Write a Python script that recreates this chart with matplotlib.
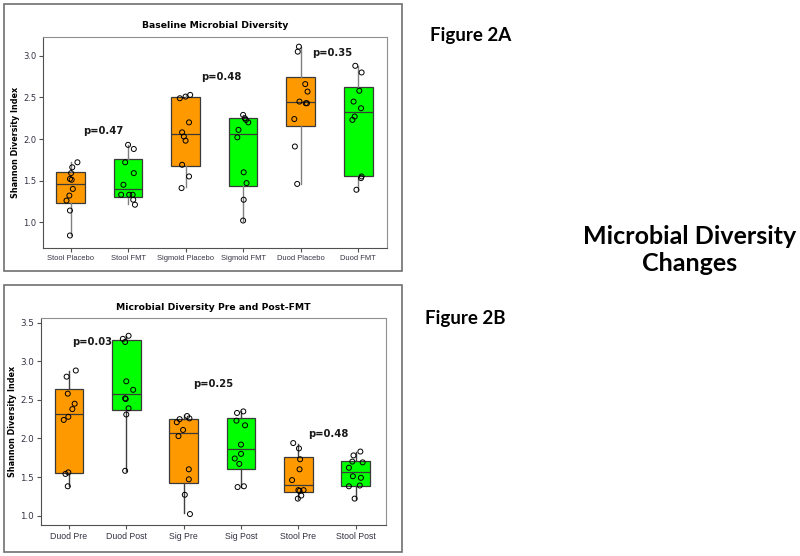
import matplotlib
matplotlib.use("Agg")
import matplotlib.pyplot as plt
import matplotlib.patches as patches
import numpy as np

# ---- Figure 2A: baseline diversity ----
groups_a = ["Stool Placebo", "Stool FMT", "Sigmoid Placebo", "Sigmoid FMT", "Duod Placebo", "Duod FMT"]
vals_a = [
    [1.72, 1.66, 1.59, 1.52, 1.51, 1.40, 1.32, 1.26, 1.14, 0.84],
    [1.93, 1.88, 1.72, 1.59, 1.45, 1.33, 1.33, 1.33, 1.27, 1.21],
    [2.53, 2.51, 2.49, 2.20, 2.08, 2.03, 1.98, 1.69, 1.55, 1.41],
    [2.29, 2.25, 2.23, 2.20, 2.11, 2.02, 1.60, 1.47, 1.27, 1.02],
    [3.11, 3.05, 2.66, 2.57, 2.45, 2.43, 2.43, 2.24, 1.91, 1.46],
    [2.88, 2.80, 2.58, 2.45, 2.37, 2.27, 2.23, 1.55, 1.53, 1.39],
]
jit_a = [
    [0.12, 0.03, 0.01, -0.01, 0.02, 0.04, -0.02, -0.07, -0.01, -0.01],
    [0.00, 0.10, -0.05, 0.10, -0.08, -0.12, 0.02, 0.08, 0.09, 0.12],
    [0.08, 0.00, -0.10, 0.06, -0.06, -0.03, 0.00, -0.06, 0.06, -0.07],
    [0.00, 0.03, 0.05, 0.09, -0.08, -0.10, 0.01, 0.06, 0.01, 0.00],
    [-0.03, -0.05, 0.08, 0.12, -0.02, 0.09, 0.11, -0.11, -0.10, -0.06],
    [-0.05, 0.06, 0.02, -0.08, 0.05, -0.06, -0.10, 0.06, 0.05, -0.03],
]
q1_a = [1.23, 1.30, 1.67, 1.43, 2.16, 1.55]
med_a = [1.46, 1.40, 2.06, 2.06, 2.44, 2.32]
q3_a = [1.60, 1.76, 2.50, 2.25, 2.75, 2.63]
lo_a = [0.84, 1.22, 1.42, 1.02, 1.46, 1.39]
hi_a = [1.72, 1.93, 2.53, 2.29, 3.11, 2.88]
pvals_a = ["p=0.47", "p=0.48", "p=0.35"]
pxy_a = [(1.57, 2.10), (3.62, 2.74), (5.55, 3.04)]

# ---- Figure 2B: pre and post FMT ----
groups_b = ["Duod Pre", "Duod Post", "Sig Pre", "Sig Post", "Stool Pre", "Stool Post"]
vals_b = [
    [2.88, 2.80, 2.58, 2.45, 2.38, 2.28, 2.24, 1.56, 1.54, 1.38],
    [3.33, 3.29, 3.25, 2.74, 2.63, 2.52, 2.51, 2.39, 2.31, 1.58],
    [2.29, 2.26, 2.25, 2.21, 2.11, 2.03, 1.60, 1.47, 1.27, 1.02],
    [2.35, 2.33, 2.23, 2.17, 1.92, 1.80, 1.74, 1.67, 1.38, 1.37],
    [1.94, 1.87, 1.73, 1.60, 1.46, 1.33, 1.32, 1.33, 1.26, 1.22],
    [1.83, 1.78, 1.70, 1.69, 1.62, 1.51, 1.49, 1.39, 1.38, 1.22],
]
jit_b = [
    [0.12, -0.04, -0.02, 0.10, 0.06, -0.01, -0.09, -0.01, -0.06, -0.02],
    [0.04, -0.06, -0.02, 0.00, 0.12, -0.02, -0.01, 0.04, 0.00, -0.02],
    [0.06, 0.10, -0.07, -0.12, -0.01, -0.09, 0.09, 0.09, 0.02, 0.11],
    [0.04, -0.07, -0.08, 0.07, 0.00, 0.00, -0.11, -0.03, 0.05, -0.06],
    [-0.09, 0.01, 0.03, 0.02, -0.11, 0.00, 0.02, 0.09, 0.05, -0.01],
    [0.08, -0.04, -0.06, 0.12, -0.12, -0.05, 0.09, 0.07, -0.12, -0.02],
]
q1_b = [1.55, 2.37, 1.42, 1.60, 1.31, 1.39]
med_b = [2.32, 2.58, 2.07, 1.86, 1.40, 1.56]
q3_b = [2.64, 3.27, 2.25, 2.26, 1.76, 1.71]
lo_b = [1.38, 1.58, 1.03, 1.37, 1.22, 1.22]
hi_b = [2.87, 3.33, 2.30, 2.35, 1.93, 1.83]
pvals_b = ["p=0.03", "p=0.25", "p=0.48"]
pxy_b = [(1.40, 3.25), (3.51, 2.71), (5.52, 2.06)]

box_colors = ["#FF9900", "#00FF00"] * 3

plt.rcParams['font.family'] = ['DejaVu Sans']


def draw_panel(ax, groups, vals, jit, q1, med, q3, lo, hi, pvals, pxy, title, yticks, ylim, xlim, wcol, xfs, yfs):
    stats = []
    for i in range(len(groups)):
        stats.append(dict(q1=q1[i], med=med[i], q3=q3[i], whislo=lo[i], whishi=hi[i], fliers=[]))
    pos = np.arange(1, len(groups) + 1)
    bp = ax.bxp(stats, positions=pos, widths=0.5, patch_artist=True, showcaps=False,
                boxprops=dict(edgecolor="#3a3a3a", linewidth=0.9),
                medianprops=dict(color="#3a3a3a", linewidth=0.9),
                whiskerprops=dict(color=wcol, linewidth=1.0))
    for patch, c in zip(bp['boxes'], box_colors):
        patch.set_facecolor(c)
    for i in range(len(groups)):
        ax.scatter(pos[i] + np.array(jit[i]), vals[i], s=13, facecolors='none',
                   edgecolors='black', linewidths=0.7, zorder=5)
    for t, (x, y) in zip(pvals, pxy):
        ax.text(x, y, t, ha='center', va='center', fontsize=7.2, fontweight='bold', color='#1a1a1a')
    ax.set_xticks(pos)
    ax.set_xticklabels(groups, fontsize=xfs, color='#333344', family='Liberation Sans')
    ax.set_yticks(yticks)
    ax.set_yticklabels(["%.1f" % v for v in yticks], fontsize=yfs, color='#333344')
    ax.set_ylim(ylim)
    ax.set_xlim(xlim)
    ax.set_ylabel("Shannon Diversity Index", fontsize=5.8, fontweight='bold', labelpad=2)
    ax.set_title(title, fontsize=6.7, fontweight='bold', pad=6)
    ax.tick_params(direction='out', length=3, width=0.8, color='#505050', pad=2)
    ax.spines['left'].set_color('#505050')
    ax.spines['bottom'].set_color('#505050')
    ax.spines['top'].set_color('#909090')
    ax.spines['right'].set_color('#909090')


fig = plt.figure(figsize=(8, 5.56), dpi=100)

ax1 = fig.add_axes([0.054, 0.554, 0.430, 0.380])
draw_panel(ax1, groups_a, vals_a, jit_a, q1_a, med_a, q3_a, lo_a, hi_a, pvals_a, pxy_a,
           "Baseline Microbial Diversity", [1.0, 1.5, 2.0, 2.5, 3.0], (0.69, 3.23), (0.525, 6.505),
           '#808080', 5.4, 6)

ax2 = fig.add_axes([0.051, 0.056, 0.431, 0.372])
draw_panel(ax2, groups_b, vals_b, jit_b, q1_b, med_b, q3_b, lo_b, hi_b, pvals_b, pxy_b,
           "Microbial Diversity Pre and Post-FMT", [1.0, 1.5, 2.0, 2.5, 3.0, 3.5], (0.88, 3.56), (0.51, 6.52),
           '#404040', 6.3, 6.3)

# outer frames around each chart
for y0 in [0.5126, 0.0072]:
    fig.patches.append(patches.Rectangle((0.005, y0), 0.4975, 0.480, transform=fig.transFigure,
                                         fill=False, edgecolor='#707070', linewidth=1.2))

fig.text(0.537, 0.937, "Figure 2A", fontsize=13.5, fontweight='bold', family='Lato', va='center')
fig.text(0.531, 0.428, "Figure 2B", fontsize=13.5, fontweight='bold', family='Lato', va='center')
fig.text(0.862, 0.551, "Microbial Diversity\nChanges", fontsize=18, fontweight='bold', family='Lato',
         ha='center', va='center', linespacing=1.2)

plt.savefig("out.png", dpi=100)
